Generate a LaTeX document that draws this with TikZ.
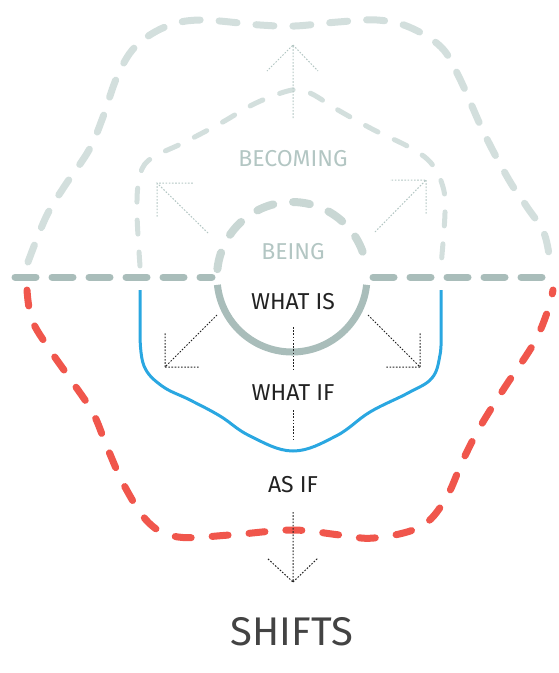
\documentclass[tikz,border=0pt]{standalone}
\usepackage{fontspec}
\setmainfont{Fira Sans}
\usetikzlibrary{calc}
\definecolor{mist}{HTML}{D3DFDD}
\definecolor{slate}{HTML}{A9BDBA}
\definecolor{ring}{HTML}{C9D7D4}
\definecolor{coral}{HTML}{F0564C}
\definecolor{sky}{HTML}{2AA7E1}
\definecolor{haze}{HTML}{B3C6C3}
\definecolor{ink}{HTML}{222222}
\tikzset{
  fence/.style={line width=7pt, line cap=round, dash pattern=on 18pt off 19pt},
  dots/.style={line width=1pt, dash pattern=on 1.6pt off 1.6pt},
  lbl/.style={font=\fontsize{23}{26}\selectfont, anchor=base, inner sep=0pt},
}
\begin{document}
\begin{tikzpicture}[x=1pt, y=-1pt]
  \useasboundingbox (0,0) rectangle (558,673);
  \draw[mist, fence] plot[smooth, tension=0.6] coordinates {(28,262) (46,217) (64,187) (89,150) (103,117) (117,77) (135,47) (165,27) (200,20) (260,25) (295,26) (338,22) (377,20) (409,27) (441,47) (459,77) (484,133) (509,180) (527,207) (544,233) (550,262)};
  \draw[mist, line width=5pt, line cap=round, dash pattern=on 14pt off 18pt] plot[smooth, tension=0.6] coordinates {(140,266) (137,213) (139,180) (149,160) (185,142) (221,123) (256,103) (292,90) (310,93) (338,110) (374,130) (409,147) (431,163) (443,187) (445,213) (441,266)};
  \draw[coral, fence, dash pattern=on 16pt off 21pt] plot[smooth, tension=0.6] coordinates {(27,290) (32,320) (50,350) (71,380) (93,413) (107,447) (125,487) (149,523) (178,537) (230,535) (292,530) (340,535) (374,538) (420,527) (445,500) (463,460) (480,427) (505,387) (534,343) (548,310) (553,290)};
  \draw[sky, line width=3pt] (140,290) -- (140,335) plot[smooth, tension=0.65] coordinates {(140,335) (144,366) (162,386) (190,400) (220,416) (250,436) (293,451) (336,436) (370,412) (408,393) (432,378) (440,355) (441,335)} -- (441,290);
  \draw[slate, line width=7pt, line cap=round, dash pattern=on 21pt off 16pt] (15,277) -- (212,277) (373,277) -- (552,277);
  \draw[ring, line width=8pt, line cap=round, dash pattern=on 17pt off 20pt] (292,277) ++(186:75) arc[start angle=186, end angle=354, radius=75];
  \draw[slate, line width=7pt] (292,277) ++(174:75) arc[start angle=174, end angle=6, radius=75];

  \node[lbl, haze] (becoming) at (293,166) {BECOMING};
  \node[lbl, haze] (being) at (293,259) {BEING};
  \node[lbl, ink] (whatis) at (293,309) {WHAT IS};
  \node[lbl, ink] (whatif) at (293,400) {WHAT IF};
  \node[lbl, ink] (asif) at (293,492) {AS IF};
  \node[font=\fontsize{40}{44}\selectfont, anchor=base, inner sep=0pt, text=ink!85] (shifts) at (292,645) {SHIFTS};

  \coordinate (upT) at (293,118);  \coordinate (upP) at (293,45);
  \coordinate (ulT) at (208,233);  \coordinate (ulP) at (157,183);
  \coordinate (urT) at (375,232);  \coordinate (urP) at (426,180);
  \coordinate (llT) at (217,315);  \coordinate (llP) at (165,367);
  \coordinate (lrT) at (368,315);  \coordinate (lrP) at (420,367);
  \coordinate (dnT) at (293,512);  \coordinate (dnP) at (293,582);
  \coordinate (m1a) at (293,327);  \coordinate (m1b) at (293,370);
  \coordinate (m2a) at (293,410);  \coordinate (m2b) at (293,440);
  \draw[dots, haze] (upT) -- (upP) -- ++(-26,26) (upP) -- ++(25,26);
  \draw[dots, haze] (ulT) -- (ulP) -- ++(36,0) (ulP) -- ++(0,34);
  \draw[dots, haze] (urT) -- (urP) -- ++(-36,0) (urP) -- ++(0,35);
  \draw[dots, ink] (llT) -- (llP) -- ++(35,0) (llP) -- ++(0,-35);
  \draw[dots, ink] (lrT) -- (lrP) -- ++(-35,0) (lrP) -- ++(0,-35);
  \draw[dots, ink] (dnT) -- (dnP) -- ++(-26,-24) (dnP) -- ++(25,-24);
  \draw[dots, ink] (m1a) -- (m1b) (m2a) -- (m2b);
\end{tikzpicture}
\end{document}
